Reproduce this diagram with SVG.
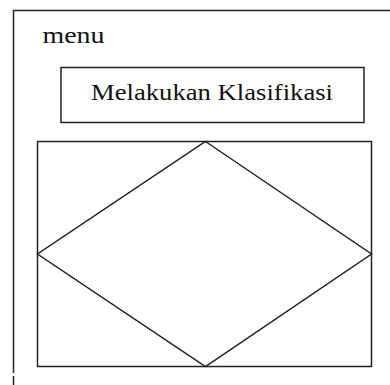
<svg xmlns="http://www.w3.org/2000/svg" width="390" height="385" viewBox="0 0 390 385">
<style>
.ln{fill:none;stroke:#222;stroke-width:1.5}
.tx{font-family:"Liberation Serif","Times New Roman",serif;font-size:24px;fill:#111}
</style>
<rect width="390" height="385" fill="#fff"/>
<g id="frame">
<path class="ln" d="M13.5 385 V376 M13.5 373 V10.5 H390"/>
<text class="tx" x="42.5" y="42.5" textLength="62" lengthAdjust="spacingAndGlyphs">menu</text>
</g>
<g id="button">
<rect class="ln" x="61" y="67.5" width="303" height="55"/>
<text class="tx" x="91" y="100" textLength="242" lengthAdjust="spacingAndGlyphs">Melakukan Klasifikasi</text>
</g>
<g id="content">
<rect class="ln" x="37.5" y="141.5" width="334" height="225"/>
</g>
<g id="connectors">
<path class="ln" d="M205.5 141.5 L371.5 254 L205.5 366.5 L37.5 254 Z"/>
</g>
</svg>
